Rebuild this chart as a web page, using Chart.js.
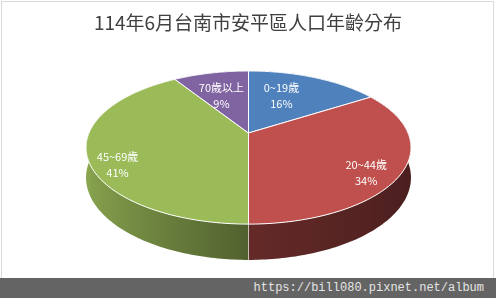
<!DOCTYPE html>
<html><head><meta charset="utf-8">
<script src="https://cdn.jsdelivr.net/npm/chart.js@4.4.1/dist/chart.umd.min.js"></script>
<style>
html,body{margin:0;padding:0;background:#fff;}
#wrap{position:relative;width:496px;height:298px;overflow:hidden;background:#fff;}
#frame{position:absolute;left:1px;top:1px;width:491px;height:278px;border:1px solid #d9d9d9;}
#c{position:absolute;left:0;top:0;}
#footer{position:absolute;left:0;top:278px;width:496px;height:20px;background:#646464;color:#e4e4e4;font:12px "Liberation Mono",monospace;line-height:20px;text-align:right;box-sizing:border-box;padding-right:12px;white-space:nowrap;}
</style></head>
<body><div id="wrap"><div id="frame"></div><canvas id="c" width="496" height="298"></canvas><div id="footer">https://bill080.pixnet.net/album</div></div>
<script>
// ---- data ----
const categories = ['0~19歲', '20~44歲', '45~69歲', '70歲以上'];
const shares = [16, 34, 41, 9];
const titleText = '114年6月台南市安平區人口年齡分布';

// ---- style ----
const sliceColors = ['#4F81BD', '#C0504D', '#9BBB59', '#8064A2'];
const VIEW = {cx: 248.5, cy: 133, A: 159.5, B: 73.8, k: 0.19, depth: 29};
const labelRadius = [0.6, 0.8, 0.8, 0.6];
const labelNudge = [[-9, -2], [-3, 9], [-3, 15], [-3, 1]];

function proj(u, v) {
  const w = 1 - VIEW.k * v;
  return [VIEW.cx + VIEW.A * u / w, VIEW.cy + VIEW.B * v / w];
}
function depthAt(v) { return VIEW.depth / (1 - VIEW.k * v); }
function lightFactor(t) {
  const c = Math.cos(t);
  return c < 0 ? 0.52 - 0.37 * c : 0.52 - 0.14 * c;
}
function shade(hex, f) {
  const n = parseInt(hex.slice(1), 16);
  const r = Math.round(((n >> 16) & 255) * f), g = Math.round(((n >> 8) & 255) * f), b = Math.round((n & 255) * f);
  return 'rgb(' + r + ',' + g + ',' + b + ')';
}

const pie3d = {
  id: 'pie3d',
  beforeDatasetsDraw(chart) {
    const ctx = chart.ctx;
    const arcs = chart.getDatasetMeta(0).data;
    if (!arcs.length) return;
    const X0 = arcs[0].x, Y0 = arcs[0].y, R = arcs[0].outerRadius;
    // side walls, one path per slice with a horizontal light gradient
    const xL = VIEW.cx - VIEW.A * 1.05, xR = VIEW.cx + VIEW.A * 1.05;
    ctx.save();
    arcs.forEach(a => {
      const col = a.options.backgroundColor;
      const span = a.endAngle - a.startAngle;
      const n = Math.max(2, Math.ceil(span / (Math.PI / 180)));
      const top = [], bot = [];
      for (let j = 0; j <= n; j++) {
        const t = a.startAngle + span * j / n;
        const p = proj(Math.cos(t), Math.sin(t));
        top.push(p);
        bot.push([p[0], p[1] + depthAt(Math.sin(t))]);
      }
      const g = ctx.createLinearGradient(xL, 0, xR, 0);
      for (let s = 0; s <= 36; s++) {
        const t = Math.PI - Math.PI * s / 36;
        const x = proj(Math.cos(t), Math.sin(t))[0];
        const pos = Math.min(1, Math.max(0, (x - xL) / (xR - xL)));
        g.addColorStop(pos, shade(col, lightFactor(t)));
      }
      ctx.beginPath();
      ctx.moveTo(top[0][0], top[0][1]);
      for (let j = 1; j < top.length; j++) ctx.lineTo(top[j][0], top[j][1]);
      for (let j = bot.length - 1; j >= 0; j--) ctx.lineTo(bot[j][0], bot[j][1]);
      ctx.closePath();
      ctx.fillStyle = g;
      ctx.fill();
    });
    // seams between slices on visible wall
    ctx.strokeStyle = 'rgba(255,255,255,0.55)';
    ctx.lineWidth = 1;
    arcs.forEach(a => {
      const t = a.startAngle, v = Math.sin(t);
      if (v > 0.25) {
        const p = proj(Math.cos(t), v);
        ctx.beginPath(); ctx.moveTo(p[0], p[1]); ctx.lineTo(p[0], p[1] + depthAt(v)); ctx.stroke();
      }
    });
    ctx.restore();
    // project the top face drawn by the library
    const oMove = ctx.moveTo, oLine = ctx.lineTo;
    const P = (x, y) => proj((x - X0) / R, (y - Y0) / R);
    ctx.moveTo = function (x, y) { const p = P(x, y); oMove.call(this, p[0], p[1]); };
    ctx.lineTo = function (x, y) { const p = P(x, y); oLine.call(this, p[0], p[1]); };
    ctx.arc = function (x, y, r, a0, a1, ccw) {
      if (!(r > 0)) { const p = P(x, y); oLine.call(this, p[0], p[1]); return; }
      const TAU = Math.PI * 2;
      let d = a1 - a0;
      if (!ccw) { if (d > TAU) d = TAU; while (d < 0) d += TAU; }
      else { if (d < -TAU) d = -TAU; while (d > 0) d -= TAU; }
      const n = Math.max(1, Math.ceil(Math.abs(d) / (Math.PI / 180)));
      for (let i = 0; i <= n; i++) {
        const a = a0 + d * i / n;
        const p = P(x + r * Math.cos(a), y + r * Math.sin(a));
        oLine.call(this, p[0], p[1]);
      }
    };
    chart.$pie3dRestore = () => { delete ctx.arc; delete ctx.moveTo; delete ctx.lineTo; };
  },
  afterDatasetsDraw(chart) {
    if (chart.$pie3dRestore) { chart.$pie3dRestore(); chart.$pie3dRestore = null; }
    const ctx = chart.ctx;
    const arcs = chart.getDatasetMeta(0).data;
    const total = shares.reduce((s, x) => s + x, 0);
    ctx.save();
    ctx.fillStyle = '#ffffff';
    ctx.font = '11px "Noto Sans CJK TC", sans-serif';
    ctx.textAlign = 'center';
    ctx.textBaseline = 'middle';
    arcs.forEach((a, i) => {
      const tm = (a.startAngle + a.endAngle) / 2;
      const f = labelRadius[i];
      const p = proj(f * Math.cos(tm), f * Math.sin(tm));
      const x = p[0] + labelNudge[i][0], y = p[1] + labelNudge[i][1];
      ctx.fillText(categories[i], x, y - 8);
      ctx.fillText(Math.round(shares[i] / total * 100) + '%', x, y + 8);
    });
    ctx.restore();
  }
};

new Chart(document.getElementById('c'), {
  type: 'pie',
  data: {
    labels: categories,
    datasets: [{data: shares, backgroundColor: sliceColors, borderColor: '#ffffff', borderWidth: 1, clip: false}]
  },
  options: {
    responsive: false,
    animation: false,
    events: [],
    layout: {padding: 0},
    plugins: {
      legend: {display: false},
      tooltip: {enabled: false},
      title: {
        display: true, text: titleText, color: '#404040',
        font: {family: '"Noto Sans CJK TC", sans-serif', size: 19, weight: 'normal'},
        padding: {top: 11, bottom: 10}
      }
    }
  },
  plugins: [pie3d]
});
</script>
</body></html>
